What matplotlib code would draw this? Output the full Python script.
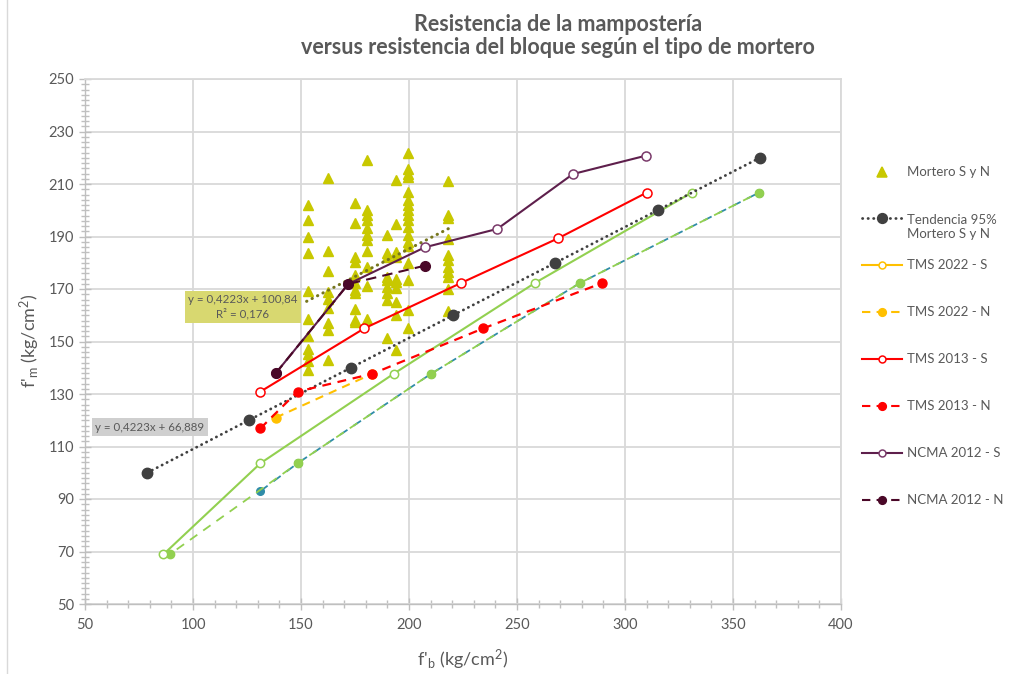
import matplotlib
matplotlib.use("Agg")
import matplotlib.pyplot as plt
from matplotlib.lines import Line2D
from matplotlib.ticker import MultipleLocator

plt.rcParams['font.family'] = ['Lato', 'DejaVu Sans']
plt.rcParams['mathtext.fontset'] = 'custom'
plt.rcParams['mathtext.rm'] = 'Lato'
plt.rcParams['mathtext.it'] = 'Lato:italic'

TXT = '#595959'

# ---------------- data ----------------
# Mortero S y N (scatter) - columns of f'b with their f'm values
col_153 = [202.0, 196.2, 190.0, 183.7, 169.3, 158.4, 152.0, 147.3, 145.4, 142.6, 139.0]
col_163 = [212.2, 184.5, 176.9, 168.7, 166.2, 162.6, 156.9, 154.3, 142.9]
col_175 = [202.6, 195.0, 182.3, 180.4, 175.3, 172.1, 169.6, 168.3, 162.3, 158.2, 157.3]
col_180 = [219.1, 200.1, 198.2, 196.3, 193.1, 190.6, 188.7, 184.5, 178.5, 171.1, 158.4]
col_190 = [190.6, 183.6, 182.3, 174.7, 173.4, 170.9, 168.4, 165.8, 151.2]
col_194 = [211.7, 194.7, 184.2, 182.3, 173.7, 172.8, 170.3, 165.2, 160.1, 146.8]
col_199 = [221.7, 215.6, 214.0, 212.8, 207.1, 203.9, 202.0, 200.1, 198.2, 196.3,
           193.7, 190.6, 188.0, 186.2, 179.8, 173.4, 162.0, 155.0]
col_218 = [211.0, 198.2, 196.9, 188.9, 183.0, 181.0, 178.5, 176.6, 174.7, 169.9, 161.7]
mortero_fb = [153.1, 162.6, 175.0, 180.4, 189.6, 194.0, 199.4, 218.2]
mortero_cols = [col_153, col_163, col_175, col_180, col_190, col_194, col_199, col_218]

# linear trend of the scatter (Excel trendline)
trend_x = [152.6, 218.5]
trend_y = [165.3, 193.1]

# Tendencia 95 %
tend_x = [78.8, 125.8, 173.1, 220.4, 267.8, 315.1, 362.5]
tend_y = [100, 120, 140, 160, 180, 200, 220]

# green solid / dashed, teal dashed
green_s_x = [86.3, 131.2, 192.9, 258.3, 330.9]
green_s_y = [68.9, 103.6, 137.7, 172.3, 206.7]
green_n_x = [89.4, 148.4, 210.2, 279.2, 362.0]
green_n_y = [69.0, 103.6, 137.7, 172.3, 206.7]
teal_x = [131.2, 148.4, 210.2, 279.2, 362.0]
teal_y = [93.0, 103.6, 137.7, 172.3, 206.7]

# TMS 2022 - N
tms22n_x = [138.3, 183.0]
tms22n_y = [121.0, 137.7]

# TMS 2013
tms13s_x = [131.2, 179.3, 224.1, 269.0, 310.0]
tms13s_y = [130.9, 155.0, 172.3, 189.3, 206.7]
tms13n_x = [131.2, 148.4, 183.0, 234.4, 289.5]
tms13n_y = [116.9, 130.9, 137.7, 155.0, 172.3]

# NCMA 2012
ncmas_x = [138.3, 171.9, 207.4, 240.9, 275.9, 309.7]
ncmas_y = [137.9, 171.9, 185.9, 192.9, 213.8, 220.8]
ncman_x = [138.3, 171.9, 207.4]
ncman_y = [137.9, 171.9, 178.9]

x_ticks = [50, 100, 150, 200, 250, 300, 350, 400]
y_ticks = [50, 70, 90, 110, 130, 150, 170, 190, 210, 230, 250]

# ---------------- colours ----------------
C_TRI = '#C8C800'
C_TEND = '#404040'
C_TRND = '#76761E'
C_GREEN = '#92D050'
C_TEAL = '#2F8CA8'
C_ORANGE = '#FFC000'
C_RED = '#FF0000'
C_NS = '#5E1F4C'
C_NS_M = '#7A3A6A'
C_NN = '#4A0828'
DOT = (0, (0.1, 1.9))

W, H = 1013, 674
fig = plt.figure(figsize=(W / 100, H / 100), dpi=100)
L, R, T, B = 85, 841, 79, 604
ax = fig.add_axes([L / W, 1 - B / H, (R - L) / W, (B - T) / H])

# scatter
sx, sy = [], []
for fb, col in zip(mortero_fb, mortero_cols):
    for v in col:
        sx.append(fb)
        sy.append(v)
ax.plot(sx, sy, linestyle='none', marker='^', ms=7.5, color=C_TRI, mec=C_TRI, zorder=3)

# scatter trendline
ax.plot(trend_x, trend_y, color=C_TRND, lw=2.2, linestyle=DOT,
        dash_capstyle='round', zorder=4)

# teal dashed (below green)
ax.plot(teal_x, teal_y, color=C_TEAL, lw=1.3, linestyle=(0, (5, 4)), marker='o', ms=5.5,
        mfc=C_TEAL, mec=C_TEAL, zorder=4)
# green dashed
ax.plot(green_n_x, green_n_y, color=C_GREEN, lw=1.3, linestyle=(4.5, (5, 4)), marker='o',
        ms=6, mfc=C_GREEN, mec=C_GREEN, zorder=5)
# green solid
ax.plot(green_s_x, green_s_y, color=C_GREEN, lw=1.5, marker='o', ms=6, mfc='white',
        mec=C_GREEN, mew=1.1, zorder=5)

# TMS 2022 - N
ax.plot(tms22n_x, tms22n_y, color=C_ORANGE, lw=1.5, linestyle=(0, (4, 3)), marker='o',
        ms=6.5, mfc=C_ORANGE, mec=C_ORANGE, zorder=5)

# Tendencia 95%
ax.plot(tend_x, tend_y, color=C_TEND, lw=2.0, linestyle=DOT, dash_capstyle='round',
        marker='o', ms=7.5, mfc=C_TEND, mec=C_TEND, zorder=6)

# TMS 2013
ax.plot(tms13n_x, tms13n_y, color=C_RED, lw=1.6, linestyle=(0, (4, 3)), marker='o', ms=6.5,
        mfc=C_RED, mec=C_RED, zorder=6)
ax.plot(tms13s_x, tms13s_y, color=C_RED, lw=1.5, marker='o', ms=6.5, mfc='white',
        mec=C_RED, mew=1.1, zorder=6)

# NCMA 2012
ax.plot(ncmas_x, ncmas_y, color=C_NS, lw=1.5, marker='o', ms=6.5, mfc='white',
        mec=C_NS_M, mew=1.1, zorder=7)
ax.plot(ncman_x, ncman_y, color=C_NN, lw=1.5, linestyle=(0, (5, 3)), marker='o', ms=7,
        mfc=C_NN, mec=C_NN, zorder=8)

# equation labels
ax.text(123.1, 163.2, 'y = 0,4223x + 100,84\nR² = 0,176', ha='center', va='center',
        fontsize=8.3, color=TXT, linespacing=1.3, zorder=9,
        bbox=dict(boxstyle='square,pad=0.3', fc='#D8D870', ec='none'))
ax.text(80.1, 117.4, 'y = 0,4223x + 66,889', ha='center', va='center',
        fontsize=8.3, color=TXT, zorder=9,
        bbox=dict(boxstyle='square,pad=0.3', fc='#CFCFCF', ec='none'))

# axes
ax.set_xlim(50, 400)
ax.set_ylim(50, 250)
ax.set_xticks(x_ticks)
ax.set_yticks(y_ticks)
ax.xaxis.set_minor_locator(MultipleLocator(10))
ax.yaxis.set_minor_locator(MultipleLocator(2))
ax.grid(True, which='major', color='#D9D9D9', lw=1.3, zorder=0)
ax.set_axisbelow(True)
for s in ['top', 'right']:
    ax.spines[s].set_color('#D9D9D9')
    ax.spines[s].set_linewidth(1.3)
for s in ['left', 'bottom']:
    ax.spines[s].set_color('#BFBFBF')
    ax.spines[s].set_linewidth(1.0)
ax.tick_params(which='both', direction='inout', color='#BFBFBF', width=1.0)
ax.tick_params(which='major', length=8, labelsize=10.5, labelcolor=TXT)
ax.tick_params(which='minor', length=6)
ax.tick_params(axis='x', which='major', pad=6)
ax.tick_params(axis='y', which='major', pad=4)

fig.text(30 / W, 1 - 341 / H, "f'$_\\mathrm{m}$ (kg/cm$^\\mathrm{2}$)", rotation=90,
         ha='center', va='center', fontsize=13, color=TXT)
fig.text(463 / W, 1 - 660 / H, "f'$_\\mathrm{b}$ (kg/cm$^\\mathrm{2}$)",
         ha='center', va='center', fontsize=13, color=TXT)

fig.text(558 / W, 1 - 36 / H,
         'Resistencia de la mampostería\nversus resistencia del bloque según el tipo de mortero',
         ha='center', va='center', fontsize=15.5, fontweight='bold', color=TXT, linespacing=1.15)

# legend (manual)
def leg(y, label, line=None, marker='o', ms=6, mfc='white', mec=None, ls='-', lw=1.5,
        ty=None, mew=1.1):
    yf = 1 - y / H
    if line is not None:
        fig.add_artist(Line2D([862 / W, 902 / W], [yf, yf], color=line, lw=lw, linestyle=ls,
                              dash_capstyle='round' if ls == DOT else 'butt',
                              transform=fig.transFigure))
    fig.add_artist(Line2D([882 / W], [yf], marker=marker, ms=ms, mfc=mfc, mec=mec,
                          mew=mew, linestyle='none', transform=fig.transFigure))
    fig.text(907 / W, 1 - (ty if ty is not None else y) / H, label, ha='left', va='center',
             fontsize=9.5, color=TXT, linespacing=1.2)

leg(172, 'Mortero S y N', None, marker='^', ms=7, mfc=C_TRI, mec=C_TRI)
leg(218, 'Tendencia 95%\nMortero S y N', C_TEND, ms=7, mfc=C_TEND, mec=C_TEND,
    ls=DOT, lw=2.0, ty=226.5)
leg(265, 'TMS 2022 - S', C_ORANGE, ms=5, mfc='white', mec=C_ORANGE)
leg(312, 'TMS 2022 - N', C_ORANGE, ms=5.5, mfc=C_ORANGE, mec=C_ORANGE, ls=(0, (4, 3)))
leg(359, 'TMS 2013 - S', C_RED, ms=5, mfc='white', mec=C_RED)
leg(406, 'TMS 2013 - N', C_RED, ms=5.5, mfc=C_RED, mec=C_RED, ls=(0, (4, 3)))
leg(453, 'NCMA 2012 - S', C_NS, ms=5, mfc='white', mec=C_NS_M)
leg(500, 'NCMA 2012 - N', C_NN, ms=5.5, mfc=C_NN, mec=C_NN, ls=(0, (4, 3)))

# chart area border (left edge)
fig.add_artist(Line2D([7 / W, 7 / W], [0, 1], color='#D9D9D9', lw=1.0, transform=fig.transFigure))

fig.savefig('out.png', dpi=100)
